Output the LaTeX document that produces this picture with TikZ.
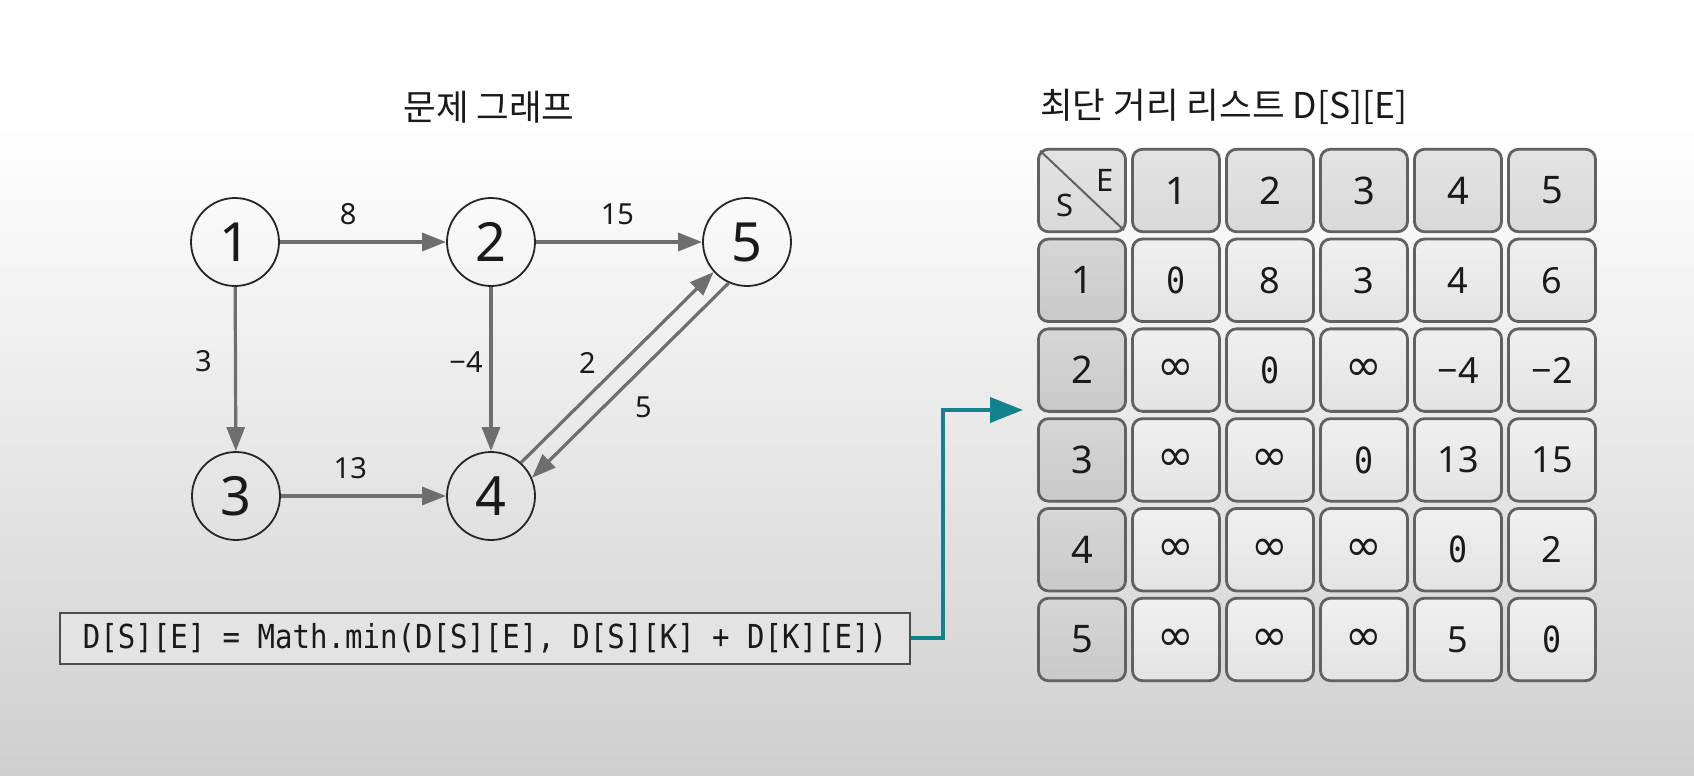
\documentclass[tikz,border=0pt]{standalone}
\usepackage{fontspec}
\setmainfont{Noto Sans}
\newfontfamily\krfont{Noto Sans CJK KR}
\newfontfamily\codefont[FakeStretch=0.88]{DejaVu Sans Mono}
\newfontfamily\symfont{DejaVu Sans}
\usetikzlibrary{arrows.meta,calc}
\definecolor{edgegray}{HTML}{6E6E6E}
\definecolor{txt}{HTML}{1A1A1A}
\definecolor{cellborder}{HTML}{616161}
\definecolor{tealc}{RGB}{18,130,142}
\definecolor{bgbot}{HTML}{CFCFCF}
\newcommand{\setfs}[1]{\fontsize{#1}{#1}\selectfont}
\newcommand{\Zr}{{\codefont 0}}
\newcommand{\Inf}{{\symfont\setfs{44}∞}}
\begin{document}
\begin{tikzpicture}[x=1pt,y=-1pt,
  vtx/.style={circle, draw=black!85, line width=1.8pt, minimum size=88pt, inner sep=0pt, text=txt, font=\setfs{54}},
  edg/.style={draw=edgegray, line width=3.2pt, -{Triangle[length=24pt,width=18pt]}},
  lab/.style={text=txt, font=\setfs{29}, inner sep=0pt},
  basecell/.style={draw=cellborder, line width=2.8pt, rounded corners=10pt, minimum width=87pt, minimum height=82.5pt, inner sep=0pt, text=txt},
  hcell/.style={basecell, top color=white!89!black, bottom color=white!85!black, font=\setfs{38}},
  rcell/.style={basecell, top color=white!84!black, bottom color=white!79!black, font=\setfs{38}},
  dcell/.style={basecell, top color=white!94!black, bottom color=white!89!black, font=\setfs{36}},
  title/.style={text=txt, font=\krfont\setfs{35.5}, inner sep=0pt}
]
\useasboundingbox (0,0) rectangle (1694,776);
\fill[white] (0,0) rectangle (1694,776);
\shade[top color=white, bottom color=bgbot] (0,125) rectangle (1694,776);

% titles
\node[title] (t1) at (489,107) {문제 그래프};
\node[title, anchor=west] (t2) at (1040,107) {최단 거리 리스트 D[S][E]};

% graph
\node[vtx] (n1) at (235,242) {1};
\node[vtx] (n2) at (491,242) {2};
\node[vtx] (n5) at (747,242) {5};
\node[vtx] (n3) at (236,496) {3};
\node[vtx] (n4) at (491,496) {4};

\draw[edg] (n1) -- (n2) node[lab, pos=0.41, yshift=28pt] (l8) {8};
\draw[edg] (n2) -- (n5) node[lab, pos=0.49, yshift=28pt] (l15) {15};
\draw[edg] (n1) -- (n3) node[lab, pos=0.45, xshift=-32pt] (l3) {3};
\draw[edg] (n2) -- (n4) node[lab, pos=0.46, xshift=-25pt] (lm4) {−4};
\draw[edg] (n3) -- (n4) node[lab, pos=0.42, yshift=28pt] (l13) {13};
\draw[edg] (n4.48) -- (n5.222) node[lab, pos=0.5, xshift=-30pt, yshift=4pt] (l2) {2};
\draw[edg] (n5.246) -- (n4.24) node[lab, pos=0.5, xshift=13pt, yshift=-27pt] (l5) {5};

% formula
\node[draw=black!70, line width=2pt, fill=white!89!black, minimum width=850pt, minimum height=51pt, inner sep=0pt, text=txt, font=\codefont\setfs{33}] (formula) at (485,638) {D[S][E] = Math.min(D[S][E], D[S][K] + D[K][E])};

% table
\node[hcell] (c0-0) at (1082,190.5) {};
\draw[draw=cellborder, line width=2pt] ([shift={(3pt,-3pt)}]c0-0.north west) -- ([shift={(-3pt,3pt)}]c0-0.south east);
\node[text=txt, font=\setfs{31}, inner sep=0pt] (lE) at (1105,180) {E};
\node[text=txt, font=\setfs{31}, inner sep=0pt] (lS) at (1065,205) {S};
\foreach \j in {1,...,5} {
  \node[hcell] (c0-\j) at ({1082+94*\j},190.5) {\j};
  \node[rcell] (c\j-0) at (1082,{190.5+89.8*\j}) {\j};
}
\foreach \v [count=\j] in {\Zr,8,3,4,6}
  \node[dcell] (c1-\j) at ({1082+94*\j},280.3) {\v};
\foreach \v [count=\j] in {\Inf,\Zr,\Inf,−4,−2}
  \node[dcell] (c2-\j) at ({1082+94*\j},370.1) {\v};
\foreach \v [count=\j] in {\Inf,\Inf,\Zr,13,15}
  \node[dcell] (c3-\j) at ({1082+94*\j},459.9) {\v};
\foreach \v [count=\j] in {\Inf,\Inf,\Inf,\Zr,2}
  \node[dcell] (c4-\j) at ({1082+94*\j},549.7) {\v};
\foreach \v [count=\j] in {\Inf,\Inf,\Inf,5,\Zr}
  \node[dcell] (c5-\j) at ({1082+94*\j},639.5) {\v};

% teal connector
\coordinate (tbend) at (943,410);
\coordinate (tend) at (1023,410);
\draw[draw=tealc, line width=4pt, -{Triangle[length=33pt,width=25pt]}] (formula.east) -| (tbend) -- (tend);
\end{tikzpicture}
\end{document}
